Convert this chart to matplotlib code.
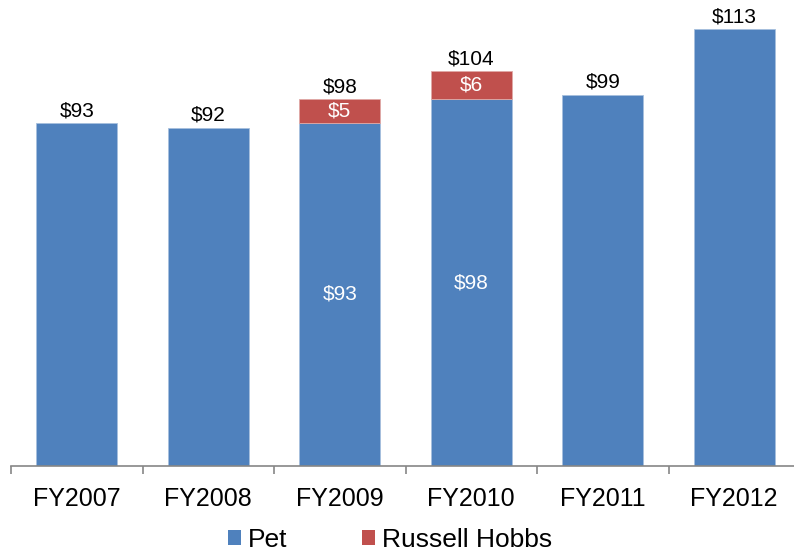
import numpy as np
import matplotlib.pyplot as plt
from matplotlib.patches import Patch

plt.rcParams['font.family'] = ['Liberation Sans', 'DejaVu Sans']

years = ["FY2007", "FY2008", "FY2009", "FY2010", "FY2011", "FY2012"]
pet = [93, 92, 93, 98, 99, 113]
russell = [0, 0, 5, 6, 0, 0]

BLUE = "#4F81BD"
RED = "#C0504D"

fig = plt.figure(figsize=(7.94, 5.53), dpi=100)
ax = fig.add_axes([11 / 794, 87 / 553, 789 / 794, 460.6 / 553])

x = np.arange(len(years))
w = 0.615
ax.bar(x, pet, width=w, color=BLUE, edgecolor="#A7C0DE", linewidth=0.6)
# only the years that actually had a Russell Hobbs segment
rh = [i for i in range(len(years)) if russell[i] > 0]
ax.bar([x[i] for i in rh], [russell[i] for i in rh], width=w,
       bottom=[pet[i] for i in rh], color=RED, edgecolor="#DFA9A7", linewidth=0.6)

ax.set_xlim(-0.5, len(years) - 0.5)
ax.set_ylim(20, 118)

# totals on top
for i in range(len(years)):
    tot = pet[i] + russell[i]
    ax.annotate(f"${tot}", (x[i], tot), xytext=(0, 2), textcoords="offset points",
                ha="center", va="bottom", fontsize=15, color="black")

# inside labels for stacked years
for i in rh:
    ax.text(x[i], (20 + pet[i]) / 2, f"${pet[i]}", ha="center", va="center",
            fontsize=15, color="white")
    ax.text(x[i], pet[i] + russell[i] / 2, f"${russell[i]}", ha="center", va="center",
            fontsize=15, color="white")

for s in ["top", "right", "left"]:
    ax.spines[s].set_visible(False)
ax.spines["bottom"].set_color("#868686")
ax.spines["bottom"].set_linewidth(1.2)
ax.set_yticks([])

ax.set_xticks(x)
ax.set_xticklabels(years, fontsize=18)
ax.tick_params(axis="x", which="major", length=0, pad=15)
ax.set_xticks(np.arange(-0.5, len(years)), minor=True)
ax.tick_params(axis="x", which="minor", length=6, width=1.2, color="#868686")

handles = [Patch(facecolor=BLUE, label="Pet"), Patch(facecolor=RED, label="Russell Hobbs")]
fig.legend(handles=handles, loc="center", bbox_to_anchor=(390 / 794, 1 - 540 / 553),
           ncol=2, frameon=False, fontsize=19, handlelength=0.5, handleheight=0.5,
           handletextpad=0.25, columnspacing=2.85)

fig.savefig("out.png", dpi=100)
